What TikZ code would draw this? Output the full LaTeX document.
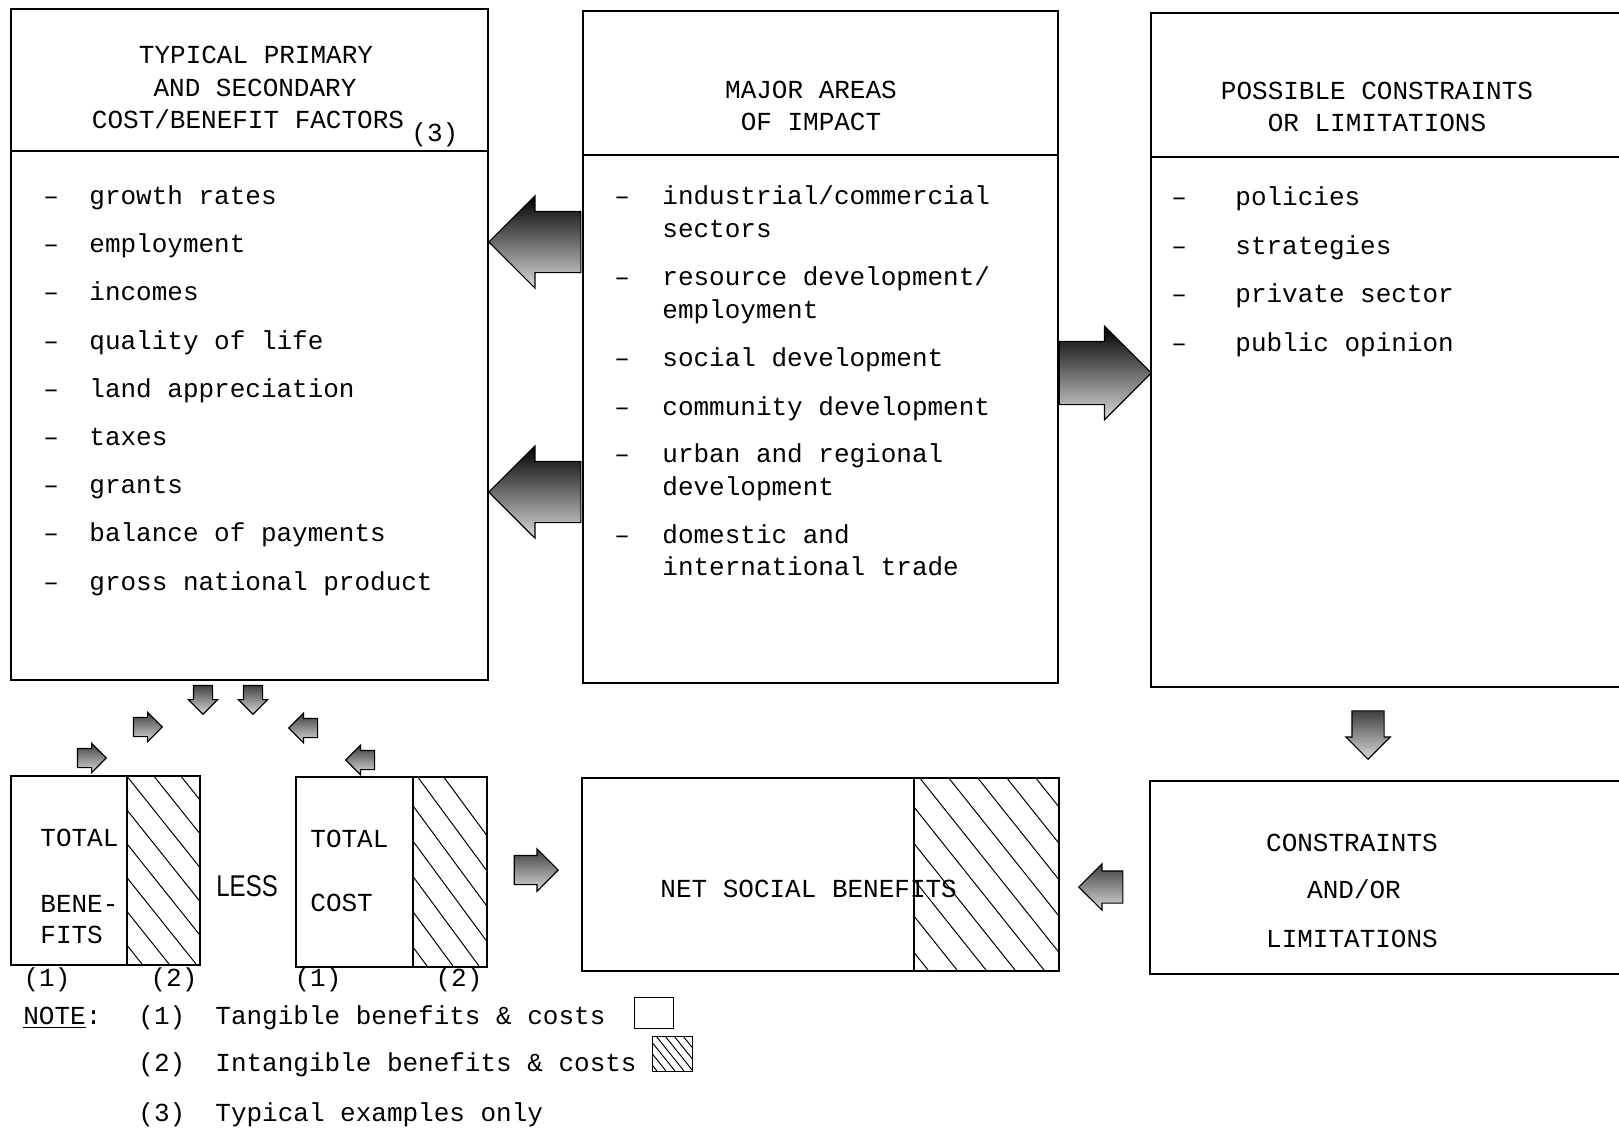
\documentclass[tikz,border=0pt]{standalone}
\usepackage{fontspec}
\setmainfont{Liberation Mono}
\newfontfamily\lesssf{Liberation Sans}
\usetikzlibrary{shapes.arrows}

\tikzset{
  box/.style={draw, line width=0.8pt, inner sep=0pt, anchor=north west},
  hatchline/.style={line width=0.5pt},
  tw/.style={inner sep=0pt, font=\fontsize{13pt}{16pt}\selectfont},
  lefttxt/.style={tw, anchor=base west},
  midtxt/.style={tw, anchor=base},
  bigarrow/.style={single arrow, draw=black, line width=0.6pt,
    top color=black, bottom color=gray!30, inner sep=0pt,
    single arrow head extend=7.75pt, anchor=tip},
  smallarrow/.style={single arrow, draw=black, line width=0.6pt,
    top color=black!75, bottom color=gray!30, inner sep=0pt,
    single arrow head extend=2.5pt}
}

\begin{document}
\begin{tikzpicture}[x=0.5pt, y=-0.5pt]
  \useasboundingbox (0,0) rectangle (1619,1130);

  % upper boxes
  \node[box, minimum width=238.5pt, minimum height=335.5pt] (factors) at (10,8) {};
  \node[box, minimum width=237.5pt, minimum height=336pt] (impact) at (582,10) {};
  \node[box, minimum width=245pt, minimum height=337pt] (limits) at (1150,12) {};
  \draw[line width=0.8pt] ([yshift=-71.5pt]factors.north west) -- ([yshift=-71.5pt]factors.north east);
  \draw[line width=0.8pt] ([yshift=-72.5pt]impact.north west) -- ([yshift=-72.5pt]impact.north east);
  \draw[line width=0.8pt] ([yshift=-72.5pt]limits.north west) -- ([yshift=-72.5pt]limits.north east);

  % headers
  \node[midtxt] (f1) at (256,63) {TYPICAL PRIMARY};
  \node[midtxt] (f2) at (255,96) {AND SECONDARY};
  \node[midtxt] (f3) at (248,128) {COST/BENEFIT FACTORS};
  \node[lefttxt] (f3n) at (411,141) {(3)};
  \node[midtxt] (i1) at (811,98) {MAJOR AREAS};
  \node[midtxt] (i2) at (811,130) {OF IMPACT};
  \node[midtxt] (l1) at (1377,99) {POSSIBLE CONSTRAINTS};
  \node[midtxt] (l2) at (1377,131) {OR LIMITATIONS};

  % cost/benefit factors
  \node[lefttxt] at (43,204) {--};   \node[lefttxt] (fa) at (89,204) {growth rates};
  \node[lefttxt] at (43,252) {--};   \node[lefttxt] (fb) at (89,252) {employment};
  \node[lefttxt] at (43,300) {--};   \node[lefttxt] (fc) at (89,300) {incomes};
  \node[lefttxt] at (43,349) {--};   \node[lefttxt] (fd) at (89,349) {quality of life};
  \node[lefttxt] at (43,397) {--};   \node[lefttxt] (fe) at (89,397) {land appreciation};
  \node[lefttxt] at (43,445) {--};   \node[lefttxt] (ff) at (89,445) {taxes};
  \node[lefttxt] at (43,493) {--};   \node[lefttxt] (fg) at (89,493) {grants};
  \node[lefttxt] at (43,541) {--};   \node[lefttxt] (fh) at (89,541) {balance of payments};
  \node[lefttxt] at (43,590) {--};   \node[lefttxt] (fi) at (89,590) {gross national product};

  % areas of impact
  \node[lefttxt] at (614,204) {--};  \node[lefttxt] (ia) at (662,204) {industrial/commercial};
                                     \node[lefttxt] (ia2) at (662,237) {sectors};
  \node[lefttxt] at (614,285) {--};  \node[lefttxt] (ib) at (662,285) {resource development/};
                                     \node[lefttxt] (ib2) at (662,318) {employment};
  \node[lefttxt] at (614,366) {--};  \node[lefttxt] (ic) at (662,366) {social development};
  \node[lefttxt] at (614,415) {--};  \node[lefttxt] (id) at (662,415) {community development};
  \node[lefttxt] at (614,462) {--};  \node[lefttxt] (ie) at (662,462) {urban and regional};
                                     \node[lefttxt] (ie2) at (662,495) {development};
  \node[lefttxt] at (614,543) {--};  \node[lefttxt] (ig) at (662,543) {domestic and};
                                     \node[lefttxt] (ig2) at (662,575) {international trade};

  % constraints
  \node[lefttxt] at (1171,205) {--}; \node[lefttxt] (la) at (1235,205) {policies};
  \node[lefttxt] at (1171,254) {--}; \node[lefttxt] (lb) at (1235,254) {strategies};
  \node[lefttxt] at (1171,302) {--}; \node[lefttxt] (lc) at (1235,302) {private sector};
  \node[lefttxt] at (1171,351) {--}; \node[lefttxt] (ld) at (1235,351) {public opinion};

  % lower boxes
  \node[box, minimum width=94.5pt, minimum height=94.5pt] (benefits) at (10,775) {};
  \node[box, minimum width=95.5pt, minimum height=95pt] (cost) at (295,776) {};
  \node[box, minimum width=238.5pt, minimum height=96.5pt] (net) at (581,777) {};
  \node[box, minimum width=245.5pt, minimum height=96.5pt] (constraints) at (1149,780) {};
  \draw[line width=0.6pt] (127,775) -- (127,964);
  \draw[line width=0.6pt] (413,776) -- (413,966);
  \draw[line width=0.6pt] (914,777) -- (914,970);

  % hatching
  \begin{scope}
    \clip (127,775) rectangle (199,964);
    \foreach \k in {-7,...,1} \draw[hatchline] (153+27*\k,775) -- ++(151,189);
  \end{scope}
  \begin{scope}
    \clip (413,776) rectangle (486,966);
    \foreach \k in {-8,...,1} \draw[hatchline] (417+26*\k,776) -- ++(140,190);
  \end{scope}
  \begin{scope}
    \clip (914,777) rectangle (1058,970);
    \foreach \k in {-6,...,4} \draw[hatchline] (948+29*\k,777) -- ++(154,193);
  \end{scope}

  \node[lefttxt] (tb1) at (40,846) {TOTAL};
  \node[lefttxt] (tb2) at (40,912) {BENE-};
  \node[lefttxt] (tb3) at (40,943) {FITS};
  \node[anchor=base west, inner sep=0pt, font=\lesssf\fontsize{15pt}{18pt}\selectfont] (less) at (216,896) {\scalebox{0.8}[1]{LESS}};
  \node[lefttxt] (tc1) at (310,847) {TOTAL};
  \node[lefttxt] (tc2) at (310,911) {COST};
  \node[lefttxt] (nsb) at (660,897) {NET SOCIAL BENEFITS};
  \node[midtxt] (c1) at (1352,851) {CONSTRAINTS};
  \node[midtxt] (c2) at (1354,898) {AND/OR};
  \node[midtxt] (c3) at (1352,947) {LIMITATIONS};

  \node[midtxt] (b1) at (47,986) {(1)};
  \node[midtxt] (b2) at (174,986) {(2)};
  \node[midtxt] (b3) at (318,986) {(1)};
  \node[midtxt] (b4) at (459,986) {(2)};

  % note
  \node[lefttxt] (note) at (23,1024) {\underline{NOTE}:};
  \node[lefttxt] (n1) at (138,1024) {(1)};
  \node[lefttxt] (n1t) at (215,1024) {Tangible benefits \& costs};
  \node[lefttxt] (n2) at (138,1071) {(2)};
  \node[lefttxt] (n2t) at (215,1071) {Intangible benefits \& costs};
  \node[lefttxt] (n3) at (138,1121) {(3)};
  \node[lefttxt] (n3t) at (215,1121) {Typical examples only};
  \node[box, line width=0.6pt, minimum width=19.5pt, minimum height=15.5pt] (tangible) at (634,997) {};
  \node[box, line width=0.6pt, minimum width=20pt, minimum height=17.5pt] (intangible) at (652,1036) {};
  \begin{scope}
    \clip (652,1036) rectangle (692,1071);
    \foreach \k in {-4,...,4} \draw[hatchline] (656+9*\k,1036) -- ++(28,35);
  \end{scope}

  % block arrows
  \node[bigarrow, shape border rotate=180, minimum height=46pt, inner ysep=15pt] (arrA) at (488,242) {};
  \node[bigarrow, shape border rotate=180, minimum height=46pt, inner ysep=15pt] (arrB) at (488,492) {};
  \node[bigarrow, minimum height=46pt, inner ysep=15.5pt, single arrow head extend=7.5pt] (arrC) at (1152,373) {};
  \node[smallarrow, anchor=tip, minimum height=22pt, inner ysep=7pt, single arrow head extend=3.25pt] (arrNet) at (559,870) {};
  \node[smallarrow, anchor=tip, shape border rotate=180, minimum height=22pt, inner ysep=7.75pt, single arrow head extend=3.5pt] (arrCon) at (1078,887) {};
  \node[smallarrow, anchor=tip, shape border rotate=270, minimum height=22.5pt, inner sep=7.75pt, single arrow head extend=3pt] (arrDown) at (1368,760) {};

  % fan of small arrows
  \node[smallarrow, shape border rotate=265, minimum height=14pt, inner sep=4.5pt] (s1) at (203,695) {};
  \node[smallarrow, shape border rotate=275, minimum height=14pt, inner sep=4.5pt] (s2) at (253,695) {};
  \node[smallarrow, shape border rotate=40, minimum height=14pt, inner sep=4.5pt] (s3) at (143,727) {};
  \node[smallarrow, shape border rotate=140, minimum height=14pt, inner sep=4.5pt] (s4) at (308,728) {};
  \node[smallarrow, shape border rotate=40, minimum height=14pt, inner sep=4.5pt] (s5) at (87,758) {};
  \node[smallarrow, shape border rotate=140, minimum height=14pt, inner sep=4.5pt] (s6) at (365,760) {};
\end{tikzpicture}
\end{document}
